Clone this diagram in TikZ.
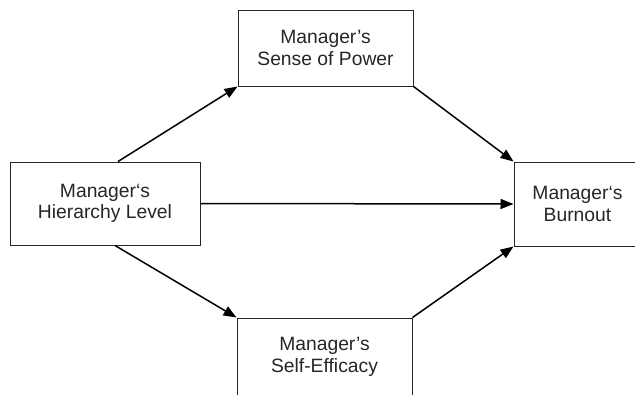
\documentclass[tikz,border=0pt]{standalone}
\usepackage{fontspec}
\setmainfont{Liberation Sans}
\usetikzlibrary{arrows.meta}

\begin{document}
\begin{tikzpicture}[x=1pt, y=-1pt,
    factor/.style={draw=black!85, line width=1pt, inner sep=0pt, align=center,
        text=black!85, font=\fontsize{19.3}{21.5}\selectfont},
    effect/.style={line width=1.5pt, -{Triangle[length=13pt, width=10pt]}}]
    \useasboundingbox (0,0) rectangle (635,394);
    \node[factor, minimum width=175pt, minimum height=76pt] (power) at (325.5,48)
        {Manager’s\\Sense of Power};
    \node[factor, minimum width=190pt, minimum height=83pt] (level) at (105,203.5)
        {Manager‘s\\Hierarchy Level};
    \node[factor, minimum width=127pt, minimum height=84pt] (burnout) at (577.5,204)
        {Manager‘s\\Burnout};
    \node[factor, minimum width=175pt, minimum height=78pt] (efficacy) at (324.5,357)
        {Manager’s\\Self-Efficacy};
    % paths
    \draw[effect] ([xshift=13pt]level.north) -- (power.south west);
    \draw[effect] (power.south east) -- (burnout.north west);
    \draw[effect] (level.east) -- (burnout.west);
    \draw[effect] ([xshift=10pt]level.south) -- (efficacy.north west);
    \draw[effect] (efficacy.north east) -- (burnout.south west);
\end{tikzpicture}
\end{document}
